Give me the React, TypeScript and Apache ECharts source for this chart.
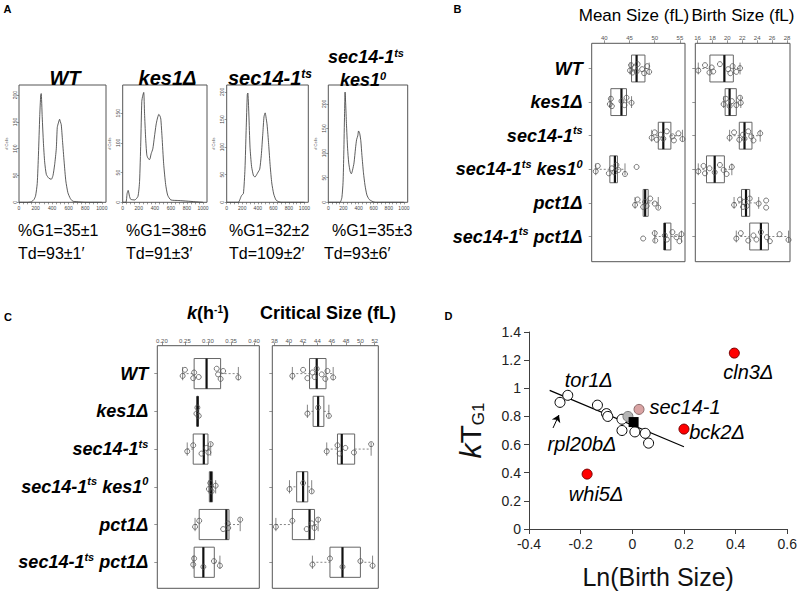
import React, { useEffect, useRef } from 'react';
import * as echarts from 'echarts';

const FF = '"Liberation Sans", Arial, Helvetica, sans-serif';

// ---------- Panel A : DNA content histograms ----------
const histWT = [[0, 0], [100, 0], [150, 1], [180, 5], [200, 12], [220, 35], [235, 90], [250, 160], [262, 200], [268, 203], [280, 160], [295, 110], [310, 75], [330, 52], [360, 45], [390, 43], [410, 50], [430, 70], [450, 100], [462, 140], [475, 148], [490, 155], [500, 150], [510, 145], [525, 115], [545, 75], [565, 40], [590, 18], [620, 7], [650, 2], [700, 1], [800, 0], [1000, 0]];
const histKes1 = [[0, 0], [40, 0], [55, 15], [68, 20], [85, 10], [100, 5], [150, 4], [190, 10], [210, 35], [225, 100], [238, 170], [250, 180], [262, 185], [272, 150], [285, 110], [300, 80], [315, 74], [335, 72], [355, 82], [375, 90], [395, 110], [415, 130], [430, 140], [450, 148], [465, 145], [475, 140], [490, 110], [510, 65], [535, 30], [560, 12], [600, 4], [700, 3], [800, 2], [900, 1], [1000, 0]];
const histSec14 = [[0, 0], [150, 0], [170, 5], [190, 12], [215, 16], [235, 60], [250, 130], [265, 195], [272, 198], [285, 160], [300, 100], [320, 65], [345, 48], [365, 46], [385, 50], [405, 55], [425, 60], [445, 85], [465, 125], [480, 155], [495, 162], [505, 155], [520, 140], [540, 105], [560, 65], [580, 35], [605, 15], [635, 4], [670, 1], [700, 0], [1000, 0]];
const histSec14Kes1 = [[0, 0], [150, 0], [165, 2], [180, 10], [195, 40], [205, 100], [215, 180], [222, 224], [230, 200], [240, 160], [255, 110], [270, 80], [290, 62], [305, 58], [320, 65], [340, 80], [360, 110], [375, 128], [390, 135], [400, 145], [415, 140], [430, 125], [445, 95], [465, 60], [485, 35], [510, 15], [540, 6], [580, 2], [620, 0], [1000, 0]];
const histMaxY = [219, 197.5, 212.5, 238.4];
const histXLabels = [0, 200, 400, 600, 800, 1000];
const histXTicks = [0, 50, 100, 150, 200, 250, 300, 350, 400, 450, 500, 550, 600, 650, 700, 750, 800, 850, 900, 950, 1000];
const histYLabels = [0, 50, 100, 150, 200];
const histG1 = ['%G1=35±1', '%G1=38±6', '%G1=32±2', '%G1=35±3'];
const histTd = ['Td=93±1′', 'Td=91±3′', 'Td=109±2′', 'Td=93±6′'];

// ---------- Panels B and C : categories ----------
const categoryLabels = ['WT', 'kes1Δ', 'sec14-1{sup|ts}', 'sec14-1{sup|ts} kes1{sup|0}', 'pct1Δ', 'sec14-1{sup|ts} pct1Δ'];
const categoryPositions = [1, 2, 3, 4, 5, 6];

// box stats: [lower whisker, Q1, median, Q3, upper whisker]
const meanSizeBox = [
  [45.1, 45.4, 46.4, 48.06, 48.9],
  [41.1, 41.3, 43.4, 44.4, 45.4],
  [49.4, 50.7, 51.7, 53.2, 55.5],
  [38.3, 41.1, 42.1, 42.6, 44.1],
  [46.1, 47.7, 48.1, 48.7, 50.7],
  [50.0, 51.8, 52.0, 53.2, 55.3],
];
const meanSizePts = [
  [45.1, 45.3, 45.6, 46.0, 46.4, 46.6, 47.5, 47.9, 48.5, 48.9],
  [41.1, 41.3, 41.5, 43.4, 44.0, 44.4, 45.4],
  [49.4, 50.0, 50.4, 51.2, 51.7, 52.4, 53.5, 53.8, 54.7, 55.5],
  [38.3, 38.7, 40.9, 41.5, 42.0, 42.4, 42.8, 44.1, 46.4],
  [46.1, 46.6, 47.7, 48.1, 48.4, 49.1, 50.0, 50.7],
  [47.7, 50.0, 50.1, 52.0, 52.4, 53.5, 54.3, 54.9, 55.3],
];
const birthSizeBox = [
  [16.1, 17.66, 19.6, 20.8, 21.7],
  [19.5, 19.7, 20.3, 21.2, 21.8],
  [20.3, 21.6, 22.3, 23.3, 24.4],
  [16.1, 17.2, 18.3, 19.6, 20.6],
  [20.9, 21.9, 22.5, 23.0, 24.2],
  [21.2, 23.0, 24.5, 25.5, 28.2],
];
const birthSizePts = [
  [16.1, 17.0, 17.6, 17.9, 18.1, 19.0, 20.1, 20.4, 20.7, 21.2, 21.7],
  [19.5, 19.8, 20.3, 20.6, 21.2, 21.7, 21.8],
  [20.3, 20.9, 21.6, 22.1, 22.3, 22.8, 23.2, 23.5, 24.4],
  [16.1, 16.8, 17.0, 17.6, 18.3, 19.0, 19.5, 19.9, 20.6],
  [20.9, 21.7, 22.1, 22.3, 22.6, 23.0, 24.2, 25.2, 25.2],
  [21.2, 21.8, 22.8, 23.5, 23.9, 24.5, 25.3, 25.7, 27.0, 28.2],
];
const kBox = [
  [0.245, 0.27, 0.297, 0.3275, 0.366],
  [0.275, 0.276, 0.2775, 0.279, 0.28],
  [0.255, 0.268, 0.291, 0.30, 0.306],
  [0.302, 0.303, 0.3065, 0.31, 0.3167],
  [0.272, 0.281, 0.34, 0.3457, 0.37],
  [0.268, 0.27, 0.29, 0.3138, 0.326],
];
const kPts = [
  [0.245, 0.25, 0.268, 0.27, 0.28, 0.319, 0.322, 0.3275, 0.333, 0.366],
  [0.275, 0.277, 0.28],
  [0.255, 0.268, 0.286, 0.297, 0.301, 0.306],
  [0.302, 0.305, 0.308, 0.3167],
  [0.272, 0.281, 0.333, 0.343, 0.344, 0.37],
  [0.268, 0.27, 0.29, 0.313, 0.326],
];
const critBox = [
  [40.5, 42.9, 43.9, 45.2, 46.2],
  [42.6, 43.4, 44.1, 44.9, 45.6],
  [45.3, 46.8, 47.4, 49.2, 51.5],
  [40.1, 41.1, 42.0, 42.65, 43.2],
  [38.2, 40.5, 42.9, 43.6, 44.1],
  [43.3, 45.75, 47.5, 50.0, 51.7],
];
const critPts = [
  [40.5, 42.0, 42.6, 43.3, 43.6, 43.9, 44.6, 45.1, 45.4, 46.2],
  [42.6, 44.1, 45.6],
  [45.3, 46.8, 47.1, 47.9, 49.1, 51.5],
  [40.1, 42.0, 43.2],
  [38.2, 40.5, 42.5, 43.2, 43.6, 44.1],
  [43.3, 45.75, 47.5, 50.0, 51.7],
];
const stripJitter = [0.06, -0.1, 0.12, -0.03, 0.09, -0.13, 0.02, 0.14, -0.07, 0.1, -0.01];

const meanTicks = [40, 45, 50, 55];
const birthTicks = [16, 18, 20, 22, 24, 26, 28];
const kTicks = [0.2, 0.25, 0.3, 0.35, 0.4];
const critTicks = [38, 40, 42, 44, 46, 48, 50, 52];

// ---------- Panel D ----------
const dOpenPoints = [[-0.28, 0.90], [-0.25, 0.95], [-0.135, 0.88], [-0.10, 0.82], [-0.095, 0.80], [-0.04, 0.78], [-0.04, 0.70], [0.01, 0.69], [0.05, 0.68], [0.063, 0.61]];
const dGreyPoints = [[-0.017, 0.80]];
const dBlackPoints = [[0.005, 0.76]];
const dPinkPoints = [[0.026, 0.85]];
const dRedPoints = [[0.395, 1.25], [0.2, 0.71], [-0.175, 0.39]];
const dRedNames = ['cln3Δ', 'bck2Δ', 'whi5Δ'];
const dFit = [[-0.32, 0.985], [0.2, 0.585]];
const dArrow = [[-0.307, 0.718], [-0.284, 0.81]];

const supRich = {
  sup: { fontSize: 11, fontWeight: 'bold', fontStyle: 'italic', fontFamily: FF, color: '#000', verticalAlign: 'top', lineHeight: 12 },
};

function boxRender(params: any, api: any) {
  const c = api.value(0);
  const lo = api.value(1), q1 = api.value(2), md = api.value(3), q3 = api.value(4), hi = api.value(5);
  const a = api.coord([q1, c - 0.4]);
  const b = api.coord([q1, c + 0.4]);
  const yTop = Math.min(a[1], b[1]);
  const yBot = Math.max(a[1], b[1]);
  const yc = api.coord([md, c])[1];
  const xLo = api.coord([lo, c])[0];
  const xQ1 = a[0];
  const xMd = api.coord([md, c])[0];
  const xQ3 = api.coord([q3, c])[0];
  const xHi = api.coord([hi, c])[0];
  const sh = (yBot - yTop) * 0.22;
  const dash = { stroke: '#777', lineWidth: 0.9, lineDash: [2, 2] };
  const solid = { stroke: '#777', lineWidth: 0.9 };
  return {
    type: 'group',
    children: [
      { type: 'line', shape: { x1: xLo, y1: yc, x2: xQ1, y2: yc }, style: dash },
      { type: 'line', shape: { x1: xQ3, y1: yc, x2: xHi, y2: yc }, style: dash },
      { type: 'line', shape: { x1: xLo, y1: yc - sh, x2: xLo, y2: yc + sh }, style: solid },
      { type: 'line', shape: { x1: xHi, y1: yc - sh, x2: xHi, y2: yc + sh }, style: solid },
      { type: 'rect', shape: { x: xQ1, y: yTop, width: Math.max(xQ3 - xQ1, 1), height: yBot - yTop }, style: { fill: 'none', stroke: '#666', lineWidth: 1 } },
      { type: 'line', shape: { x1: xMd, y1: yTop, x2: xMd, y2: yBot }, style: { stroke: '#111', lineWidth: 2.2 } },
    ],
  };
}

export default function App() {
  const ref = useRef<HTMLDivElement>(null);
  useEffect(() => {
    if (!ref.current) return;
    const chart = echarts.init(ref.current, null, { renderer: 'svg' });

    const gridDefs = [
      { left: 19, top: 85, width: 87, height: 117.3 },
      { left: 122.7, top: 85, width: 84.3, height: 117.3 },
      { left: 226.7, top: 85, width: 81.6, height: 117.3 },
      { left: 328.3, top: 85, width: 79.4, height: 117.3 },
      { left: 591.7, top: 43.3, width: 93.3, height: 218.4 },
      { left: 695.3, top: 43.3, width: 94.7, height: 218.4 },
      { left: 157.3, top: 345.7, width: 102, height: 242.6 },
      { left: 272.3, top: 345.7, width: 106, height: 242.6 },
      { left: 529, top: 332, width: 259, height: 197 },
    ];
    const grid = gridDefs.map((g, i) => ({
      ...g,
      containLabel: false,
      show: i < 8,
      borderColor: '#555',
      borderWidth: 1,
      backgroundColor: 'transparent',
    }));

    const xAxis: any[] = [];
    const yAxis: any[] = [];
    const series: any[] = [];

    // Histograms
    const hists = [histWT, histKes1, histSec14, histSec14Kes1];
    hists.forEach((h, i) => {
      const yl = histYLabels.filter((v) => v <= histMaxY[i]);
      xAxis.push({
        type: 'value', gridIndex: i, min: 0, max: 1050,
        axisLine: { show: false }, splitLine: { show: false },
        axisTick: { show: true, customValues: histXTicks, length: 2, lineStyle: { color: '#555', width: 0.6 } },
        axisLabel: { customValues: histXLabels, formatter: (v: number) => String(v), fontSize: 5, color: '#444', margin: 3, fontFamily: FF },
      });
      yAxis.push({
        type: 'value', gridIndex: i, min: 0, max: histMaxY[i],
        axisLine: { show: false }, splitLine: { show: false },
        axisTick: { show: true, customValues: yl, length: 2, lineStyle: { color: '#555', width: 0.6 } },
        axisLabel: { customValues: yl, formatter: (v: number) => String(v), fontSize: 5, color: '#444', margin: 2, rotate: 90, fontFamily: FF },
        name: '# Cells', nameLocation: 'middle', nameGap: 11, nameRotate: 90,
        nameTextStyle: { fontSize: 4, color: '#444', fontFamily: FF },
      });
      series.push({
        type: 'line', xAxisIndex: i, yAxisIndex: i, data: h, showSymbol: false, smooth: 0.2,
        lineStyle: { color: '#333', width: 0.8 }, silent: true,
      });
    });

    // Box panels
    const boxPanels = [
      { grid: 4, box: meanSizeBox, pts: meanSizePts, min: 37.5, max: 56, ticks: meanTicks, fmt: (v: number) => String(v), ymin: 0.25, ymax: 6.75, labels: true },
      { grid: 5, box: birthSizeBox, pts: birthSizePts, min: 15.7, max: 28.4, ticks: birthTicks, fmt: (v: number) => String(v), ymin: 0.25, ymax: 6.75, labels: false },
      { grid: 6, box: kBox, pts: kPts, min: 0.19, max: 0.4115, ticks: kTicks, fmt: (v: number) => v.toFixed(2), ymin: 0.26, ymax: 6.69, labels: true },
      { grid: 7, box: critBox, pts: critPts, min: 37.7, max: 52.5, ticks: critTicks, fmt: (v: number) => String(v), ymin: 0.26, ymax: 6.69, labels: false },
    ];
    boxPanels.forEach((p) => {
      xAxis.push({
        type: 'value', gridIndex: p.grid, min: p.min, max: p.max, position: 'top',
        axisLine: { show: false }, splitLine: { show: false },
        axisTick: { show: true, customValues: p.ticks, length: 3, lineStyle: { color: '#666', width: 0.7 } },
        axisLabel: { customValues: p.ticks, formatter: p.fmt, fontSize: 6, color: '#555', margin: 2, fontFamily: FF },
      });
      yAxis.push({
        type: 'value', gridIndex: p.grid, min: p.ymin, max: p.ymax, inverse: true,
        axisLine: { show: false }, splitLine: { show: false },
        axisTick: { show: true, customValues: categoryPositions, length: 3, lineStyle: { color: '#666', width: 0.7 } },
        axisLabel: p.labels
          ? {
              customValues: categoryPositions,
              formatter: (v: number) => categoryLabels[Math.round(v) - 1] || '',
              fontSize: 18, fontWeight: 'bold', fontStyle: 'italic', color: '#000', fontFamily: FF,
              margin: 9, lineHeight: 22, rich: supRich,
            }
          : { show: false },
      });
      series.push({
        type: 'custom', xAxisIndex: p.grid, yAxisIndex: p.grid, renderItem: boxRender,
        encode: { x: [1, 2, 3, 4, 5], y: 0 },
        data: p.box.map((b, i) => [categoryPositions[i], ...b]),
        silent: true, z: 2,
      });
      const pts: number[][] = [];
      p.pts.forEach((arr, i) => arr.forEach((v, j) => pts.push([v, categoryPositions[i] + stripJitter[j % stripJitter.length]])));
      series.push({
        type: 'scatter', xAxisIndex: p.grid, yAxisIndex: p.grid, data: pts, symbol: 'circle', symbolSize: 5,
        itemStyle: { color: 'rgba(0,0,0,0)', borderColor: '#555', borderWidth: 0.8, opacity: 1 }, silent: true, z: 3,
      });
    });

    // Panel D axes
    xAxis.push({
      type: 'value', gridIndex: 8, min: -0.4, max: 0.6, interval: 0.2,
      axisLine: { show: true, onZero: false, lineStyle: { color: '#404040', width: 1 } },
      axisTick: { show: true, length: 5, lineStyle: { color: '#404040' } },
      axisLabel: { fontSize: 14, color: '#222', margin: 8, fontFamily: FF },
      splitLine: { show: false },
      name: 'Ln(Birth Size)', nameLocation: 'middle', nameGap: 35,
      nameTextStyle: { fontSize: 25, color: '#111', fontFamily: FF },
    });
    yAxis.push({
      type: 'value', gridIndex: 8, min: 0, max: 1.4, interval: 0.2,
      axisLine: { show: true, onZero: false, lineStyle: { color: '#404040', width: 1 } },
      axisTick: { show: true, length: 5, lineStyle: { color: '#404040' } },
      axisLabel: { fontSize: 14, color: '#222', margin: 8, fontFamily: FF },
      splitLine: { show: false },
      name: '{k|k}{t|T}{s|G1}', nameLocation: 'middle', nameGap: 42, nameRotate: 90,
      nameTextStyle: {
        fontFamily: FF, color: '#111',
        rich: {
          k: { fontSize: 30, fontStyle: 'italic', fontFamily: FF, color: '#111', lineHeight: 34 },
          t: { fontSize: 30, fontFamily: FF, color: '#111', lineHeight: 34 },
          s: { fontSize: 17, fontFamily: FF, color: '#111', verticalAlign: 'bottom', lineHeight: 20 },
        },
      },
    });

    const dLabel = (text: string, dx: number, dy: number) => ({
      show: true, position: 'inside', formatter: text, offset: [dx, dy],
      fontSize: 20, fontStyle: 'italic', color: '#000', fontFamily: FF, textBorderWidth: 0, opacity: 1,
    });

    series.push({
      type: 'line', xAxisIndex: 8, yAxisIndex: 8, data: dFit, showSymbol: false,
      lineStyle: { color: '#000', width: 1.2 }, silent: true, z: 2,
    });
    series.push({
      type: 'scatter', xAxisIndex: 8, yAxisIndex: 8, symbol: 'circle', symbolSize: 10,
      itemStyle: { color: '#fff', borderColor: '#000', borderWidth: 1, opacity: 1 },
      data: dOpenPoints.map((p, i) => {
        if (i === 0) return { value: p, label: dLabel('rpl20bΔ', 22, 42) };
        if (i === 1) return { value: p, label: dLabel('tor1Δ', 21, -15) };
        return { value: p };
      }),
      markLine: {
        silent: true, symbol: ['none', 'arrow'], symbolSize: 7,
        lineStyle: { color: '#000', width: 1, type: 'solid', opacity: 1 }, label: { show: false },
        data: [[{ coord: dArrow[0] }, { coord: dArrow[1] }]],
      },
      z: 3,
    });
    series.push({
      type: 'scatter', xAxisIndex: 8, yAxisIndex: 8, symbol: 'circle', symbolSize: 10,
      itemStyle: { color: '#b5b5b5', borderColor: '#7a7a7a', borderWidth: 1, opacity: 1 }, data: dGreyPoints, z: 4,
    });
    series.push({
      type: 'scatter', xAxisIndex: 8, yAxisIndex: 8, symbol: 'rect', symbolSize: 10,
      itemStyle: { color: '#000', opacity: 1 }, data: dBlackPoints, z: 5,
    });
    series.push({
      type: 'scatter', xAxisIndex: 8, yAxisIndex: 8, symbol: 'circle', symbolSize: 10,
      itemStyle: { color: '#d9a3a3', borderColor: '#8c6a6a', borderWidth: 1, opacity: 1 },
      data: dPinkPoints.map((p) => ({ value: p, label: dLabel('sec14-1', 46, -2) })), z: 4,
    });
    const redOffsets = [[14, 19], [33, 3], [9, 20]];
    series.push({
      type: 'scatter', xAxisIndex: 8, yAxisIndex: 8, symbol: 'circle', symbolSize: 10,
      itemStyle: { color: '#ff0000', borderColor: '#7a0000', borderWidth: 1, opacity: 1 },
      data: dRedPoints.map((p, i) => ({ value: p, label: dLabel(dRedNames[i], redOffsets[i][0], redOffsets[i][1]) })), z: 4,
    });

    // Texts
    const txt = (x: number, y: number, text: string, style: any) => ({
      type: 'text', x, y, silent: true,
      style: { text, fontFamily: FF, fill: '#000', align: 'center', verticalAlign: 'middle', ...style },
    });
    const titleStyle = { fontSize: 20, fontWeight: 'bold', fontStyle: 'italic', rich: { sup: { ...supRich.sup, fontSize: 12, fill: '#000' } } };
    const smallTitleStyle = { fontSize: 18, fontWeight: 'bold', fontStyle: 'italic', lineHeight: 20, rich: { sup: { ...supRich.sup, fontSize: 11, fill: '#000' } } };
    const graphic: any[] = [
      txt(7.5, 9, 'A', { fontSize: 11, fontWeight: 'bold' }),
      txt(457.5, 9, 'B', { fontSize: 11, fontWeight: 'bold' }),
      txt(8, 317, 'C', { fontSize: 11, fontWeight: 'bold' }),
      txt(448.5, 316, 'D', { fontSize: 11, fontWeight: 'bold' }),
      txt(65, 78, 'WT', titleStyle),
      txt(167.5, 78, 'kes1Δ', titleStyle),
      txt(270, 78, 'sec14-1{sup|ts}', titleStyle),
      txt(366, 57, 'sec14-1{sup|ts}', smallTitleStyle),
      txt(363, 80, 'kes1{sup|0}', smallTitleStyle),
      txt(634, 15, 'Mean Size (fL)', { fontSize: 17 }),
      txt(743, 15, 'Birth Size (fL)', { fontSize: 17 }),
      txt(208, 313, '{ki|k}(h{sp|-1})', {
        fontSize: 18, fontWeight: 'bold',
        rich: {
          ki: { fontSize: 18, fontWeight: 'bold', fontStyle: 'italic', fontFamily: FF, fill: '#000' },
          sp: { fontSize: 10, fontWeight: 'bold', fontFamily: FF, fill: '#000', verticalAlign: 'top', lineHeight: 11 },
        },
      }),
      txt(328, 313, 'Critical Size (fL)', { fontSize: 18, fontWeight: 'bold' }),
    ];
    const g1X = [18, 126, 229, 332];
    const tdX = [18, 126, 229, 324];
    histG1.forEach((t, i) => graphic.push(txt(g1X[i], 230, t, { fontSize: 16, align: 'left' })));
    histTd.forEach((t, i) => graphic.push(txt(tdX[i], 253, t, { fontSize: 16, align: 'left' })));

    chart.setOption({
      animation: false,
      backgroundColor: '#fff',
      textStyle: { fontFamily: FF },
      grid, xAxis, yAxis, series, graphic,
    });
    return () => chart.dispose();
  }, []);
  return <div ref={ref} style={{ position: 'absolute', left: 0, top: 0, width: 800, height: 597 }} />;
}
